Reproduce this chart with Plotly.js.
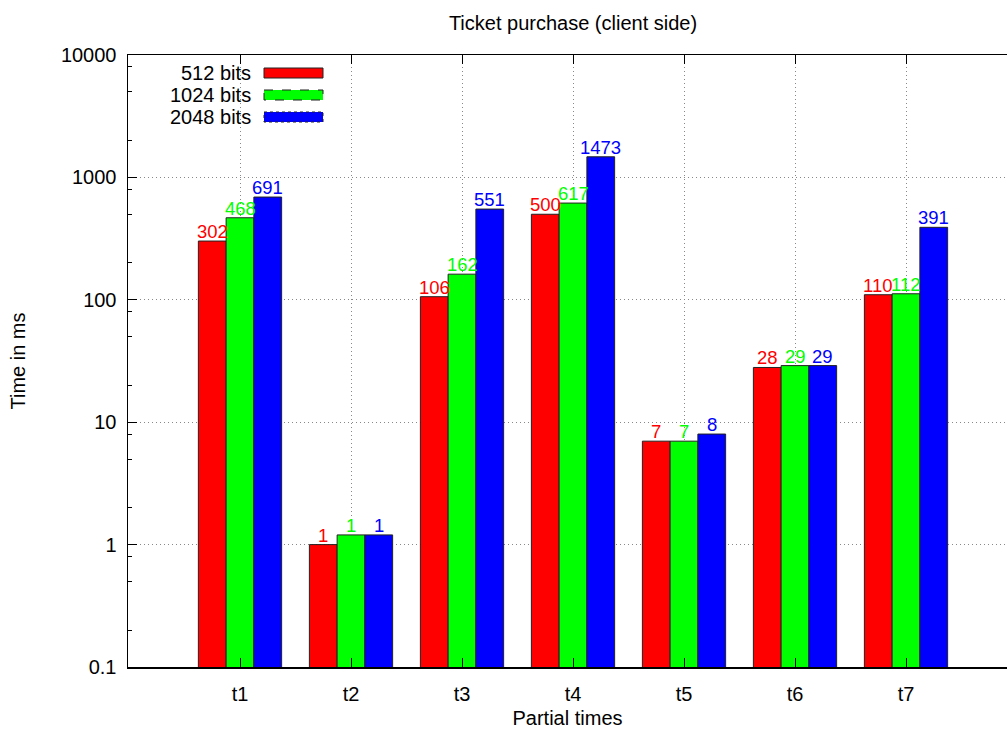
<!DOCTYPE html>
<html>
<head>
<meta charset="utf-8">
<script src="https://cdn.plot.ly/plotly-3.0.1.min.js"></script>
<style>html,body{margin:0;padding:0;background:#fff;}#chart{width:1007px;height:729px;}</style>
</head>
<body>
<div id="chart"></div>
<script>
const categories = ["t1", "t2", "t3", "t4", "t5", "t6", "t7"];
const seriesNames = ["512 bits", "1024 bits", "2048 bits"];
const bits512 = [302, 1, 106, 500, 7, 28, 110];
const bits1024 = [468, 1.2, 162, 617, 7, 29, 112];
const bits2048 = [691, 1.2, 551, 1473, 8, 29, 391];
const yTickVals = [0.1, 1, 10, 100, 1000, 10000];
const yTickText = ["0.1", "1", "10", "100", "1000", "10000"];
const yMinorVals = [0.2, 0.5, 0.8, 2, 5, 8, 20, 50, 80, 200, 500, 800, 2000, 5000, 8000];

const colors = ["#ff0000", "#00ff00", "#0000ff"];
const seriesData = [bits512, bits1024, bits2048];
const FONT = "Liberation Sans, Arial, sans-serif";
const FS = 20;
const LABEL_FS = 18.5;

const W = 1007, H = 729;
const M = {l: 128, r: 0, t: 55, b: 62};
const plotW = W - M.l - M.r;
const plotH = H - M.t - M.b;
const unitPx = 111;          // pixels per category
const firstCatPx = 240;      // pixel x of first category
function px2paperX(px) { return (px - M.l) / plotW; }
function px2paperY(py) { return 1 - (py - M.t) / plotH; }

const traces = seriesData.map((vals, i) => ({
  type: 'bar',
  name: seriesNames[i],
  x: categories,
  y: vals,
  marker: {color: colors[i], line: {color: '#222', width: 1}},
  showlegend: false,
  hoverinfo: 'skip'
}));

const annotations = [];
const shapes = [];

// value labels above bars
const barPx = unitPx * 0.25;
seriesData.forEach((vals, i) => {
  vals.forEach((v, j) => {
    annotations.push({
      xref: 'x', yref: 'y',
      x: categories[j], y: Math.log10(v),
      xshift: (i - 1) * barPx,
      yshift: -3,
      xanchor: 'center', yanchor: 'bottom',
      text: String(Math.round(v)), showarrow: false,
      font: {family: FONT, size: LABEL_FS, color: colors[i]}
    });
  });
});

// custom gnuplot-style legend (text left, key right)
const legendY = [73, 95, 117];
seriesNames.forEach((n, i) => {
  annotations.push({
    xref: 'paper', yref: 'paper',
    x: px2paperX(253), y: px2paperY(legendY[i]),
    xanchor: 'right', yanchor: 'middle',
    text: n, showarrow: false,
    font: {family: FONT, size: FS, color: '#000'}
  });
  shapes.push({
    type: 'rect', xref: 'paper', yref: 'paper', layer: 'above',
    x0: px2paperX(264), x1: px2paperX(323),
    y0: px2paperY(legendY[i] - 5), y1: px2paperY(legendY[i] + 5),
    fillcolor: colors[i],
    line: {color: '#222', width: 1, dash: i === 0 ? 'solid' : (i === 1 ? 'dash' : 'dot')}
  });
});

const layout = {
  width: W, height: H,
  margin: M,
  paper_bgcolor: '#fff', plot_bgcolor: '#fff',
  font: {family: FONT, size: FS, color: '#000'},
  title: {text: 'Ticket purchase (client side)', x: px2paperX(573), xref: 'paper', xanchor: 'center',
          y: 1 - 23 / H, yanchor: 'middle', yref: 'container',
          font: {family: FONT, size: FS, color: '#000'}},
  barmode: 'group',
  bargap: 0.25,
  bargroupgap: 0,
  xaxis: {
    type: 'category',
    range: [(M.l - firstCatPx) / unitPx, (W - firstCatPx) / unitPx],
    showline: true, linecolor: '#000', linewidth: 1.5, mirror: 'ticks',
    ticks: 'inside', ticklen: 9, tickwidth: 1, tickcolor: '#000',
    showgrid: true, gridcolor: '#888', griddash: '1px,3px', gridwidth: 1,
    tickfont: {family: FONT, size: FS},
    ticklabelstandoff: 8,
    title: {text: 'Partial times', font: {family: FONT, size: FS}, standoff: 8},
    zeroline: false, fixedrange: true
  },
  yaxis: {
    type: 'log',
    range: [-1, 4],
    tickvals: yTickVals, ticktext: yTickText, tickmode: 'array',
    showline: true, linecolor: '#000', linewidth: 1.5,
    ticks: 'inside', ticklen: 9, tickwidth: 1, tickcolor: '#000',
    minor: {tickmode: 'array', tickvals: yMinorVals, ticks: 'inside', ticklen: 4, tickcolor: '#000', showgrid: false},
    showgrid: true, gridcolor: '#888', griddash: '1px,3px', gridwidth: 1,
    tickfont: {family: FONT, size: FS},
    ticklabelstandoff: 6,
    title: {text: 'Time in ms', font: {family: FONT, size: FS}, standoff: 30},
    zeroline: false, fixedrange: true
  },
  annotations: annotations,
  shapes: shapes
};

Plotly.newPlot('chart', traces, layout, {staticPlot: true, displayModeBar: false});
</script>
</body>
</html>
